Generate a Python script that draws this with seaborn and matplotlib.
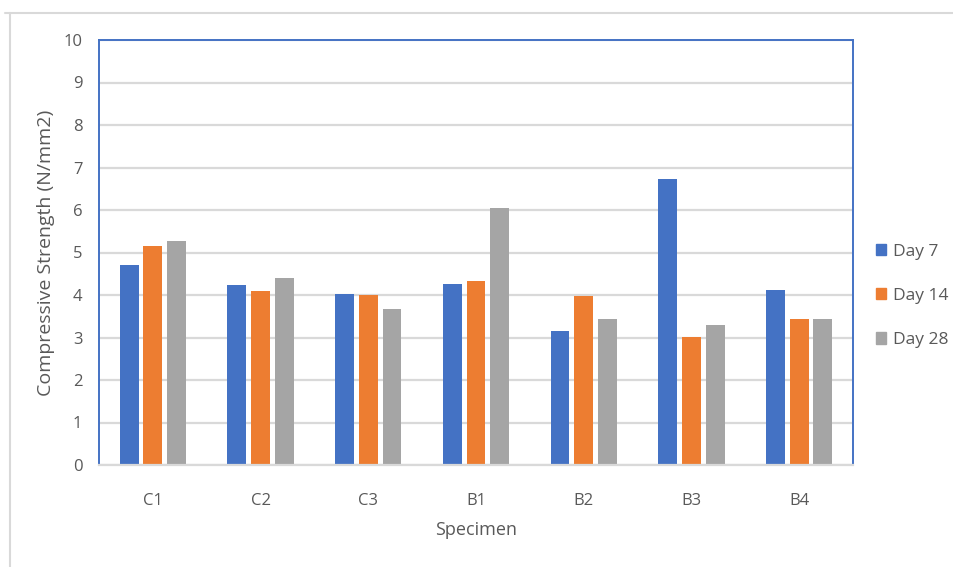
import matplotlib
matplotlib.use("Agg")
import matplotlib.pyplot as plt
from matplotlib.lines import Line2D
import numpy as np
import pandas as pd
import seaborn as sns

specimens = ["C1", "C2", "C3", "B1", "B2", "B3", "B4"]
day7 = [4.71, 4.24, 4.03, 4.26, 3.15, 6.74, 4.12]
day14 = [5.16, 4.10, 3.99, 4.32, 3.98, 3.01, 3.43]
day28 = [5.28, 4.40, 3.67, 6.04, 3.43, 3.29, 3.43]
series_names = ["Day 7", "Day 14", "Day 28"]
y_ticks = list(range(0, 11))

colors = ["#4472C4", "#ED7D31", "#A5A5A5"]
text_color = "#595959"

df = pd.DataFrame({
    "Specimen": specimens * 3,
    "Strength": day7 + day14 + day28,
    "Age": [s for s in series_names for _ in specimens],
})

sns.set_theme(style="white")
plt.rcParams["font.family"] = ["Open Sans", "DejaVu Sans"]

fig = plt.figure(figsize=(9.54, 5.67), dpi=100)
ax = fig.add_axes([99 / 954, 1 - 465 / 567, (853 - 99) / 954, (465 - 40) / 567])

sns.barplot(data=df, x="Specimen", y="Strength", hue="Age",
            order=specimens, hue_order=series_names, palette=colors,
            width=0.66, gap=0.2, saturation=1, edgecolor="none",
            ax=ax, legend=False)

ax.set_ylim(0, 10)
ax.set_xlim(-0.5, len(specimens) - 0.5)
ax.set_yticks(y_ticks)
ax.set_yticklabels([str(t) for t in y_ticks], color=text_color, fontsize=12)
ax.yaxis.grid(True, color="#D9D9D9", linewidth=1.6)
ax.set_axisbelow(True)

ax.set_xticks(range(len(specimens)))
ax.set_xticklabels(specimens, color=text_color, fontsize=12)
ax.set_xticks(np.arange(-0.5, len(specimens)), minor=True)
ax.tick_params(axis="x", which="major", length=0, pad=20)
ax.tick_params(axis="x", which="minor", length=7, width=1.2, color="#D9D9D9", direction="out")
ax.tick_params(axis="y", length=0, pad=12)

ax.set_xlabel("Specimen", color=text_color, fontsize=13, labelpad=9)
ax.set_ylabel("Compressive Strength (N/mm2)", color=text_color, fontsize=14)
ax.yaxis.set_label_coords(-0.058, 0.5)

for side in ["left", "top", "right"]:
    ax.spines[side].set_color("#4472C4")
    ax.spines[side].set_linewidth(1.4)
ax.spines["bottom"].set_color("#D9D9D9")
ax.spines["bottom"].set_linewidth(1.6)

handles = [plt.Rectangle((0, 0), 1, 1, color=c) for c in colors]
leg = fig.legend(handles, series_names, loc="center left",
                 bbox_to_anchor=(860 / 954, 1 - 296 / 567), frameon=False,
                 fontsize=12.5, handlelength=0.6, handleheight=0.6,
                 handletextpad=0.4, labelspacing=1.62)
for t in leg.get_texts():
    t.set_color(text_color)

# outer chart frame
fig.add_artist(Line2D([5 / 954, 1], [1 - 13 / 567, 1 - 13 / 567],
                      transform=fig.transFigure, color="#D9D9D9", linewidth=1.5))
fig.add_artist(Line2D([10 / 954, 10 / 954], [0, 1 - 13 / 567],
                      transform=fig.transFigure, color="#D9D9D9", linewidth=1.5))

fig.savefig("out.png", dpi=100, facecolor="white")
